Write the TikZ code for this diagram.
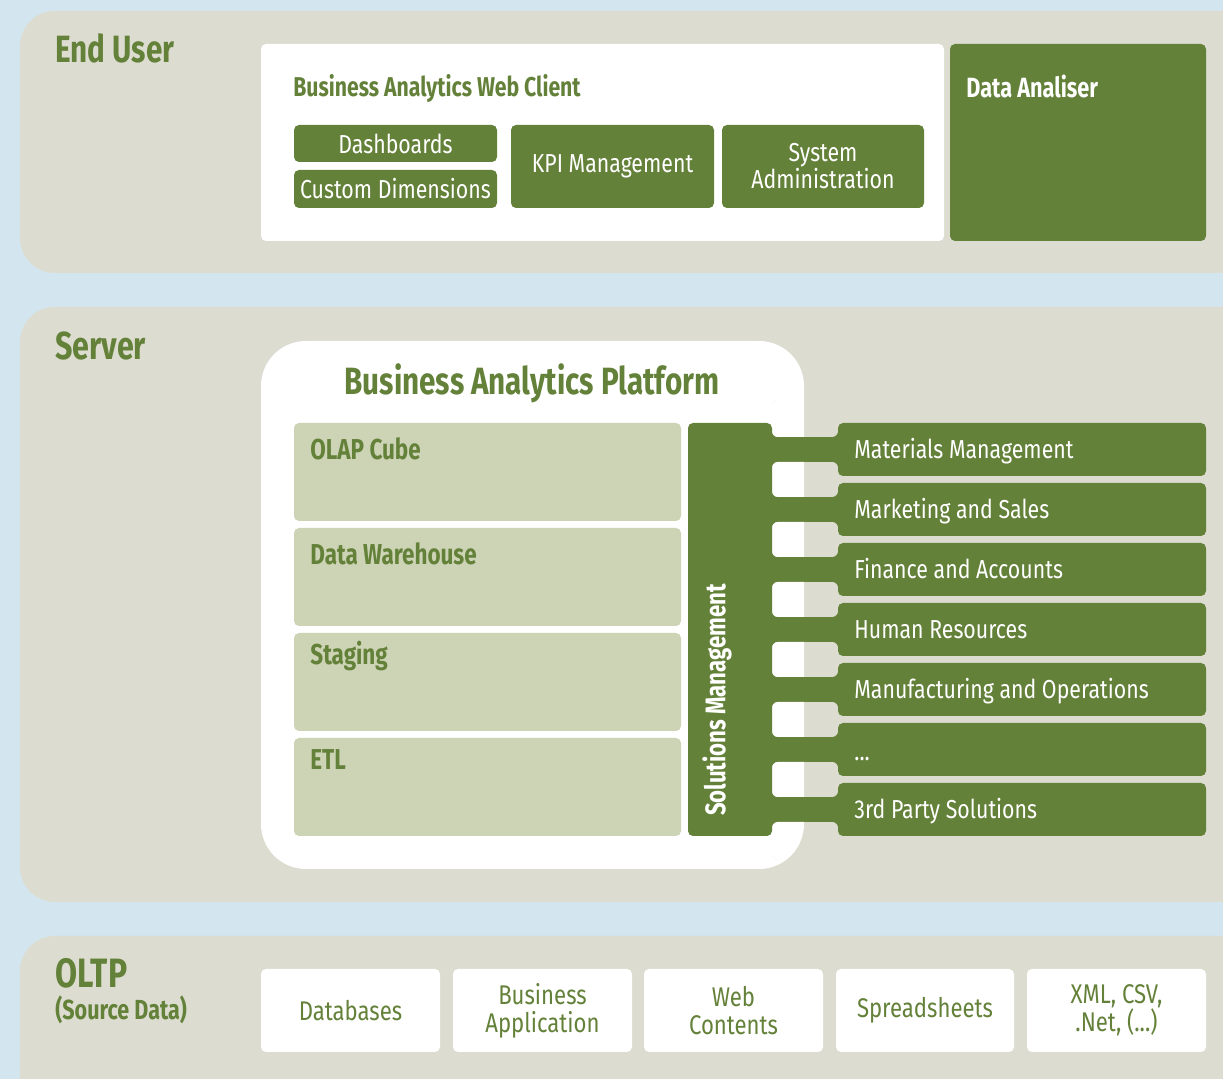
\documentclass[tikz,border=0pt]{standalone}
\usepackage{fontspec}
\setmainfont{Fira Sans}[FakeStretch=0.82]
\newfontfamily\bfam{Fira Sans}[FakeStretch=0.78]
\usetikzlibrary{fit}
\definecolor{bgblue}{HTML}{D3E5EE}
\definecolor{panelc}{HTML}{DCDDD0}
\definecolor{grn}{HTML}{648139}
\definecolor{lgrn}{HTML}{CDD4B6}
\tikzset{
  panelbox/.style={fill=panelc, rounded corners=17.5pt},
  wbox/.style={fill=white, inner sep=0pt, rounded corners=2.5pt},
  gbox/.style={fill=grn, inner sep=0pt, rounded corners=2.5pt},
  lbox/.style={fill=lgrn, inner sep=0pt, rounded corners=2.5pt},
  rtext/.style={font=\fontsize{13}{13.5}\selectfont, align=center, text=white, inner sep=0pt},
  srctext/.style={font=\fontsize{13.5}{14}\selectfont, align=center, text=grn, inner sep=0pt},
  bigtitle/.style={font=\bfam\bfseries\fontsize{19}{20}\selectfont, text=grn, inner sep=0pt, anchor=base west},
  subtitle/.style={font=\bfam\bfseries\fontsize{13.6}{14}\selectfont, text=grn, inner sep=0pt, anchor=base west},
  layertitle/.style={font=\bfam\bfseries\fontsize{14.4}{15}\selectfont, text=grn, inner sep=0pt, anchor=base west},
  soltext/.style={font=\fontsize{13}{14}\selectfont, text=white, inner sep=0pt, anchor=base west},
}
\begin{document}
\begin{tikzpicture}[x=0.5pt, y=-0.5pt]
\useasboundingbox (0,0) rectangle (1223,1079);
\fill[bgblue] (0,0) rectangle (1223,1079);
% panels
\path[panelbox] (20,11) rectangle (1258,273);
\path[panelbox] (20,307) rectangle (1258,902);
\path[panelbox] (20,936) rectangle (1258,1120);
% panel titles
\node[bigtitle] (enduser) at (55,63) {End User};
\node[bigtitle, font=\bfam\bfseries\fontsize{19.5}{20}\selectfont] (server) at (55,360) {Server};
\node[bigtitle, font=\bfam\bfseries\fontsize{20.5}{21}\selectfont] (oltp) at (55,988) {OLTP};
\node[font=\bfam\bfseries\fontsize{13.8}{15}\selectfont, text=grn, inner sep=0pt, anchor=base west] (srcdata) at (55,1020) {(Source Data)};
% End user layer
\node[wbox, fit={(261,44) (944,241)}] (webclient) {};
\node[subtitle] (wctitle) at (293,97) {Business Analytics Web Client};
\node[gbox, fit={(294,125) (497,162)}] (dash) {};
\node[gbox, fit={(294,170) (497,208)}] (custom) {};
\node[gbox, fit={(511,125) (714,208)}] (kpi) {};
\node[gbox, fit={(722,125) (924,208)}] (sysadm) {};
\node[rtext] (dash-t) at (dash.center) {Dashboards};
\node[rtext] (custom-t) at (custom.center) {Custom Dimensions};
\node[rtext] (kpi-t) at (kpi.center) {KPI Management};
\node[rtext] (sysadm-t) at (sysadm.center) {System\\Administration};
\node[gbox, fit={(950,44) (1206,241)}] (analiser) {};
\node[font=\bfam\bfseries\fontsize{13.9}{14}\selectfont, text=white, inner sep=0pt, anchor=base west] (antitle) at (966,98) {Data Analiser};
% Server layer
\path[fill=white, rounded corners=22.5pt] (261,341) rectangle (804,869);
\node[inner sep=0pt, fit={(261,341) (804,869)}] (platform) {};
\node[font=\bfam\bfseries\fontsize{19}{20}\selectfont, text=grn, inner sep=0pt, anchor=base] (pftitle) at (532,395) {Business Analytics Platform};
\node[lbox, fit={(294,423) (681,521)}] (olap) {};
\node[lbox, fit={(294,528) (681,626)}] (dwh) {};
\node[lbox, fit={(294,633) (681,731)}] (staging) {};
\node[lbox, fit={(294,738) (681,836)}] (etl) {};
\node[layertitle] (olap-t) at (310,460) {OLAP Cube};
\node[layertitle] (dwh-t) at (310,565) {Data Warehouse};
\node[layertitle] (staging-t) at (310,665) {Staging};
\node[layertitle] (etl-t) at (310,770) {ETL};
% connector column
\fill[grn] (772,423) rectangle (838,836);
\foreach \ya/\yb in {400/437, 462/497, 522/557, 582/617, 642/677, 702/737, 762/797, 822/860}{
  \begin{scope}
    \clip[rounded corners=3pt] (772,\ya) rectangle (838,\yb);
    \fill[panelc] (772,\ya) rectangle (838,\yb);
    \fill[white, rounded corners=22.5pt] (261,341) rectangle (804,869);
  \end{scope}
}
\node[gbox, fit={(688,423) (772,836)}] (solmgmt) {};
\node[font=\bfam\bfseries\fontsize{14.2}{15}\selectfont, text=white, rotate=90, inner sep=0pt] (soltitle) at (717,700) {Solutions Management};
\foreach \n/\y/\t in {mat/423/Materials Management, mkt/483/Marketing and Sales, fin/543/Finance and Accounts, hr/603/Human Resources, mfg/663/Manufacturing and Operations, third/783/3rd Party Solutions}{
  \node[gbox, fit={(838,\y) (1206,\y+53)}] (\n) {};
  \node[soltext] (\n-t) at (854,\y+36) {\t};
}
\node[gbox, fit={(838,723) (1206,776)}] (etc) {};
\node[soltext] (etc-t) at (854,761) {...};
% OLTP layer
\node[wbox, fit={(261,969) (440,1052)}] (db) {};
\node[wbox, fit={(453,969) (632,1052)}] (bizapp) {};
\node[wbox, fit={(644,969) (823,1052)}] (web) {};
\node[wbox, fit={(836,969) (1014,1052)}] (sheets) {};
\node[wbox, fit={(1027,969) (1206,1052)}] (xml) {};
\node[srctext] (db-t) at (db.center) {Databases};
\node[srctext] (bizapp-t) at (bizapp.center) {Business\\Application};
\node[srctext] (web-t) at (web.center) {Web\\Contents};
\node[srctext] (sheets-t) at (sheets.center) {Spreadsheets};
\node[srctext] (xml-t) at (xml.center) {XML, CSV,\\.Net, (...)};
\end{tikzpicture}
\end{document}
